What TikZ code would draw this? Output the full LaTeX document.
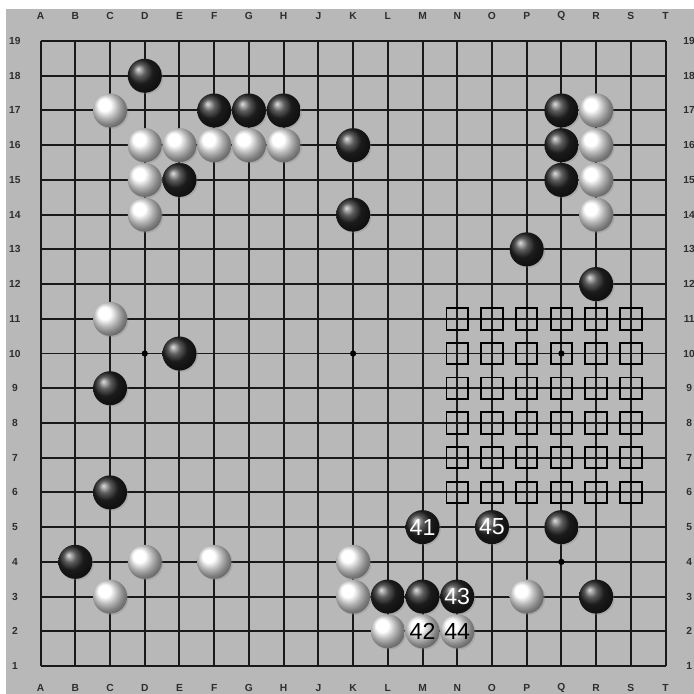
\documentclass[tikz,border=0pt]{standalone}
\usepackage{fontspec}
\setsansfont{Liberation Sans}
\usepackage{tikz}
\usetikzlibrary{
	positioning,
	shadows,
}
\definecolor{boardgray}{HTML}{B8B8B8}
\definecolor{labelgray}{HTML}{2E2E2E}
\tikzset{
  gridline/.style={line width=0.8pt, black!90},
  stonebase/.style={circle, inner sep=0pt, minimum size=4.9mm,
    font=\sffamily\fontsize{9.5}{9.5}\selectfont,
    drop shadow={opacity=0.3, shadow xshift=0.2mm, shadow yshift=-0.2mm}},
  bstone/.style={stonebase, shading=ball, ball color=black!85, text=white},
  wstone/.style={stonebase, shading=ball, ball color=white, text=black},
  sqmark/.style={draw, line width=0.8pt, minimum size=3.1mm, inner sep=0pt},
  hoshi/.style={circle, fill=black, inner sep=0pt, minimum size=0.9mm},
  coordlabel/.style={font=\sffamily\bfseries\fontsize{4.2}{4.2}\selectfont, text=labelgray},
}

\begin{document}
\begin{tikzpicture}[x=0.5cm, y=0.5cm]
  \useasboundingbox (-0.169,0.194) rectangle (19.819,20.182);
  \fill[boardgray] (0.004,0.194) rectangle (19.819,19.923);
  % named points of the board
  \foreach \col [count=\i] in {A,B,C,D,E,F,G,H,J,K,L,M,N,O,P,Q,R,S,T} {
    \foreach \row in {1,...,19}
      \coordinate (\col\row) at (\i,\row);
    \node[coordlabel] (top\col) at (\i,19.72) {\col};
    \node[coordlabel] (bot\col) at (\i,0.37) {\col};
  }
  \foreach \row in {1,...,19} {
    \node[coordlabel] (left\row) at (0.26,\row) {\row};
    \node[coordlabel] (right\row) at (19.68,\row) {\row};
  }
  \foreach \col in {A,B,C,D,E,F,G,H,J,K,L,M,N,O,P,Q,R,S,T}
    \draw[gridline] (\col1) -- (\col19);
  \foreach \row in {1,...,19}
    \draw[gridline] (A\row) -- (T\row);
  \foreach \pt in {D10,K10,Q10,Q4}
    \node[hoshi] (h\pt) at (\pt) {};
  % marked area
  \foreach \col in {N,O,P,Q,R,S}
    \foreach \row in {6,...,11}
      \node[sqmark] (m\col\row) at (\col\row) {};
  % stones
  \foreach \pt in {D18,F17,G17,H17,E15,K16,K14,Q17,Q16,Q15,P13,R12,E10,C9,C6,B4,L3,M3,Q5,R3}
    \node[bstone] (b\pt) at (\pt) {};
  \foreach \pt in {C17,D16,E16,F16,G16,H16,D15,D14,R17,R16,R15,R14,C11,D4,F4,C3,K4,K3,L2,P3}
    \node[wstone] (w\pt) at (\pt) {};
  \node[bstone] (bM5) at (M5) {41};
  \node[bstone] (bN3) at (N3) {43};
  \node[bstone] (bO5) at (O5) {45};
  \node[wstone] (wM2) at (M2) {42};
  \node[wstone] (wN2) at (N2) {44};
\end{tikzpicture}
\end{document}
